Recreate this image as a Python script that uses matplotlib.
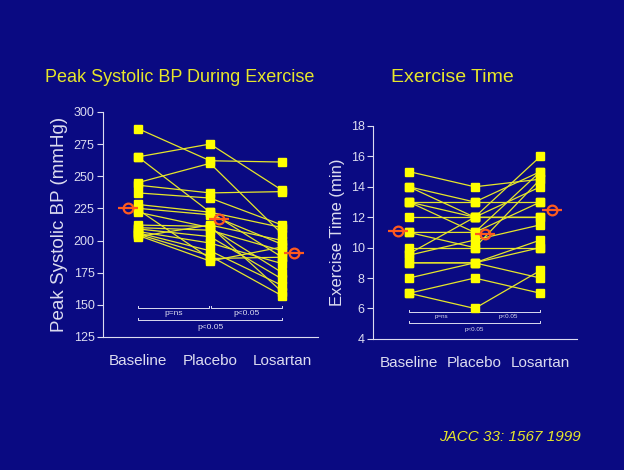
import matplotlib
matplotlib.use("Agg")
import matplotlib.pyplot as plt

groups = ["Baseline", "Placebo", "Losartan"]

# peak systolic BP per subject (mmHg): baseline, placebo, losartan
bp_baseline = [287, 265, 265, 245, 243, 237, 228, 225, 224, 222, 212, 210, 209, 207, 206, 205, 204, 203]
bp_placebo = [262, 275, 222, 260, 237, 233, 222, 220, 186, 210, 211, 208, 203, 198, 192, 188, 184, 212]
bp_losartan = [261, 239, 210, 205, 238, 212, 187, 197, 187, 175, 160, 192, 170, 182, 165, 157, 195, 200]
bp_mean = [225, 217, 190]

# exercise time per subject (min)
et_baseline = [15, 14, 14, 13, 13, 13, 12, 11, 11, 10, 9.5, 9, 9, 8, 7, 7, 9.6]
et_placebo = [14, 13, 12, 13, 12, 11, 12, 11, 10, 10, 10.5, 9, 9, 9, 8, 6, 12]
et_losartan = [14.5, 15, 14, 13, 16, 15, 12, 13, 14.5, 10, 11.5, 8, 10.5, 10, 7, 8.5, 12]
et_mean = [11.1, 10.9, 12.5]

bp_ticks = [125, 150, 175, 200, 225, 250, 275, 300]
et_ticks = [4, 6, 8, 10, 12, 14, 16, 18]

BG = "#0a0a82"
YEL = "#ffff00"
LINE = "#e6e62a"
TXT = "#dcdcf0"
ORANGE = "#ff5a1e"

plt.rcParams["font.family"] = ["Liberation Sans", "DejaVu Sans"]

fig = plt.figure(figsize=(6.24, 4.70), dpi=100, facecolor=BG)
ax1 = fig.add_axes([0.165, 0.283, 0.345, 0.479], facecolor=BG)
ax2 = fig.add_axes([0.598, 0.279, 0.327, 0.453], facecolor=BG)


def draw_panel(ax, base, plac, los, mean, ticks, xlim, mean_dx):
    x = [0, 1, 2]
    for a, b, c in zip(base, plac, los):
        ax.plot(x, [a, b, c], color=LINE, lw=0.9, zorder=2)
        ax.plot(x, [a, b, c], ls="none", marker="s", ms=6.3,
                mfc=YEL, mec=YEL, zorder=3)
    mx = [xi + d for xi, d in zip(x, mean_dx)]
    ax.plot(mx, mean, ls="none", marker="_", ms=14, mew=1.6, color=ORANGE, zorder=4)
    ax.plot(mx, mean, ls="none", marker="o", ms=7, mfc="none", mec=ORANGE,
            mew=1.6, zorder=4)
    ax.set_xlim(*xlim)
    ax.set_ylim(ticks[0], ticks[-1])
    ax.set_yticks(ticks)
    ax.set_xticks(x)
    ax.set_xticklabels(groups, fontsize=11, color=TXT)
    ax.tick_params(axis="x", length=0, pad=12)
    ax.tick_params(axis="y", colors=TXT, labelsize=9, length=4, width=0.8, pad=2)
    for s in ["top", "right"]:
        ax.spines[s].set_visible(False)
    for s in ["left", "bottom"]:
        ax.spines[s].set_color(TXT)
        ax.spines[s].set_linewidth(0.8)


def bracket(ax, x0, x1, y, h, label, ty, fs):
    ax.plot([x0, x0, x1, x1], [y - h, y, y, y - h], color=TXT, lw=0.7)
    ax.text((x0 + x1) / 2, ty, label, color=TXT, fontsize=fs,
            ha="center", va="center")


draw_panel(ax1, bp_baseline, bp_placebo, bp_losartan, bp_mean, bp_ticks,
           (-0.486, 2.5), [-0.14, 0.12, 0.17])
bracket(ax1, 0, 0.99, 147.6, -1.8, "p=ns", 143.5, 6)
bracket(ax1, 1.01, 2, 147.6, -1.8, "p<0.05", 143.5, 6)
bracket(ax1, 0, 2, 138, -1.8, "p<0.05", 132, 6)

draw_panel(ax2, et_baseline, et_placebo, et_losartan, et_mean, et_ticks,
           (-0.545, 2.56), [-0.16, 0.16, 0.17])
bracket(ax2, 0, 0.99, 5.77, -0.12, "p=ns", 5.5, 4.5)
bracket(ax2, 1.01, 2, 5.77, -0.12, "p<0.05", 5.5, 4.5)
bracket(ax2, 0, 2, 5.05, -0.12, "p<0.05", 4.6, 4.5)

ax1.set_ylabel("Peak Systolic BP (mmHg)", color=TXT, fontsize=13.5, labelpad=4)
ax2.set_ylabel("Exercise Time (min)", color=TXT, fontsize=12, labelpad=4)

fig.text(0.072, 0.835, "Peak Systolic BP During Exercise", color=LINE, fontsize=13,
         ha="left", va="center")
fig.text(0.627, 0.835, "Exercise Time", color=LINE, fontsize=14,
         ha="left", va="center")
fig.text(0.93, 0.07, "JACC 33: 1567 1999", color=LINE, fontsize=11,
         style="italic", ha="right", va="center")

fig.savefig("out.png", dpi=100, facecolor=BG)
